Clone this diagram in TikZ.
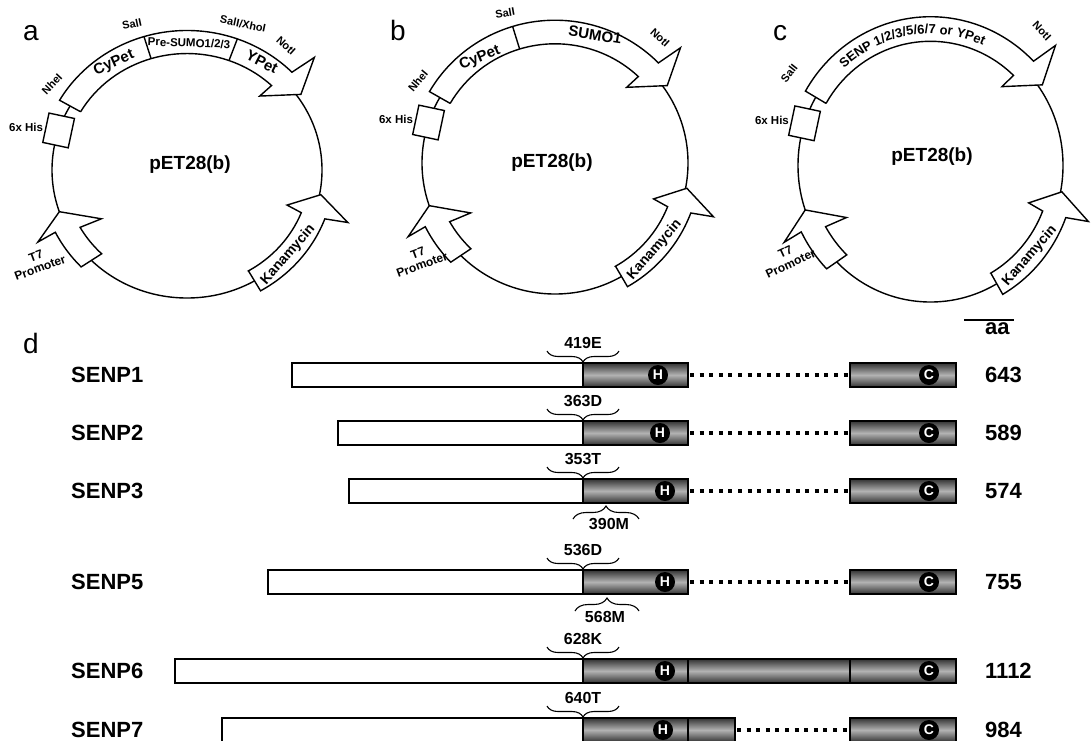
\documentclass[tikz,border=0pt]{standalone}
\usepackage{fontspec}
\setmainfont{Liberation Sans}
\usetikzlibrary{positioning,decorations.pathreplacing,decorations.text}

\begin{document}
\begin{tikzpicture}[x=1pt, y=-1pt,
    backbone/.style={line width=1.4pt},
    feature/.style={draw, fill=white, line width=1.4pt, line join=miter},
    hisbox/.style={draw, fill=white, line width=1.4pt, minimum width=26pt, minimum height=30pt, inner sep=0pt},
    panel/.style={font=\fontsize{28}{30}\selectfont, anchor=base, inner sep=0pt},
    site/.style={font=\bfseries\fontsize{11}{12}\selectfont, inner sep=0pt},
    prom/.style={font=\bfseries\fontsize{12}{12.5}\selectfont, inner sep=0pt, align=center},
    gene/.style={font=\bfseries\fontsize{15}{16}\selectfont, inner sep=0pt},
    vecname/.style={font=\bfseries\fontsize{19}{20}\selectfont, inner sep=0pt},
    senp/.style={font=\bfseries\fontsize{22}{24}\selectfont, inner sep=0pt, anchor=west},
    wbar/.style={draw, fill=white, line width=2pt},
    gbar/.style={draw, line width=2pt, top color=black!80, bottom color=black!80, middle color=black!30},
    dom/.style={circle, fill=black, text=white, minimum size=20pt, inner sep=0pt, font=\bfseries\fontsize{14}{14}\selectfont},
    dots/.style={line width=3.5pt, dash pattern=on 4pt off 5.6pt},
    nodots/.style={draw=none},
    brc/.style={decorate, decoration={brace, amplitude=11pt}, line width=1.1pt},
    cut/.style={font=\bfseries\fontsize{16}{17}\selectfont, inner sep=0pt}
  ]
  \useasboundingbox (0,0) rectangle (1091,740);

  % plasmids a, b, c
  \foreach \nm/\cx/\cy/\rx/\ry in {a/187/170/135/128, b/555/163/133/131, c/930.5/165.5/132.5/136.5}{
    \begin{scope}[shift={(\cx,\cy)}, x=\rx pt, y=\ry pt]
      \draw[backbone] (0,0) circle[radius=1];
      % insert
      \draw[feature] (150:0.91) -- (150:1.09) arc[start angle=150, end angle=44.5, radius=1.09]
        -- (43:1.29) -- (35:1.03) -- (47:0.79) -- (46.5:0.91) arc[start angle=46.5, end angle=150, radius=0.91] -- cycle;
      % T7 promoter
      \draw[feature] (224:1.09) -- (226:0.91) arc[start angle=226, end angle=209.5, radius=0.91]
        -- (211:0.74) -- (199:1.0) -- (207:1.24) -- (206.5:1.09) arc[start angle=206.5, end angle=224, radius=1.09] -- cycle;
      % kanamycin
      \draw[feature] (-60:0.91) -- (-60:1.09) arc[start angle=-60, end angle=-20.5, radius=1.09]
        -- (-19:1.26) -- (-11:1.01) -- (-20.3:0.79) -- (-21.5:0.91) arc[start angle=-21.5, end angle=-60, radius=0.91] -- cycle;
      \node[gene, font=\bfseries\fontsize{14}{15}\selectfont, rotate=49] (kan-\nm) at (-41.5:1) {Kanamycin};
      \node[hisbox, rotate=-12] (his-\nm) at (162:1) {};
    \end{scope}
    \node[site, font=\bfseries\fontsize{11.5}{12}\selectfont, left=2pt of his-\nm] (histag-\nm) {6x His};
  }

  % dividers
  \begin{scope}[shift={(187,170)}, x=135pt, y=128pt]
    \draw[backbone] (107:0.91) -- (107:1.09);
    \draw[backbone] (70:0.91) -- (70:1.09);
  \end{scope}
  \begin{scope}[shift={(555,163)}, x=133pt, y=131pt]
    \draw[backbone] (107:0.91) -- (107:1.09);
  \end{scope}
  \begin{scope}[shift={(930.5,165.5)}, x=132.5pt, y=136.5pt]
    \path[decorate, decoration={text along path, text align=center,
      text={|\bfseries\fontsize{13}{14}\selectfont|SENP 1/2/3/5/6/7 or YPet}}]
      (150:0.965) arc[start angle=150, end angle=48, radius=0.965];
  \end{scope}

  % labels a
  \node[panel] (pa) at (31,40) {a};
  \node[site, rotate=47] (nhe-a) at (52,84) {NheI};
  \node[gene, rotate=24] (cypet-a) at (114,63) {CyPet};
  \node[site, rotate=12] (sal-a) at (132,24) {SalI};
  \node[site, font=\bfseries\fontsize{11.5}{12}\selectfont, rotate=-2] (pre-a) at (189,43) {Pre-SUMO1/2/3};
  \node[site, rotate=-12] (xho-a) at (243,24) {SalI/XhoI};
  \node[gene, rotate=-27] (ypet-a) at (262,62) {YPet};
  \node[site, rotate=-42] (not-a) at (286,46) {NotI};
  \node[vecname] (vec-a) at (190,165) {pET28(b)};
  \node[prom, rotate=20] (t7-a) at (38,262) {T7\\Promoter};

  % labels b
  \node[panel] (pb) at (398,40) {b};
  \node[site, rotate=50] (nhe-b) at (418,81) {NheI};
  \node[gene, rotate=22] (cypet-b) at (480,58) {CyPet};
  \node[site, rotate=10] (sal-b) at (505,13) {SalI};
  \node[gene, rotate=-9] (sumo-b) at (595,35) {SUMO1};
  \node[site, rotate=-42] (not-b) at (660,38) {NotI};
  \node[vecname] (vec-b) at (552,163) {pET28(b)};
  \node[prom, rotate=20] (t7-b) at (420,259) {T7\\Promoter};

  % labels c
  \node[panel] (pc) at (780,40) {c};
  \node[site, rotate=52] (sal-c) at (789,73) {SalI};
  \node[site, rotate=-47] (not-c) at (1042,31) {NotI};
  \node[vecname] (vec-c) at (932,157) {pET28(b)};
  \node[prom, rotate=25] (t7-c) at (788,258) {T7\\Promoter};

  % panel d
  \node[panel] (pd) at (31,353) {d};
  \node[senp] (aa) at (985,329) {aa};
  \draw[line width=1.2pt] (964,320) -- (1014,320);
  \foreach \i/\ty/\lft/\hx/\len/\site/\gend/\dl in {
      1/363/292/658/643/419E/688/dots,
      2/421/338/660/589/363D/688/dots,
      3/479/349/665/574/353T/688/dots,
      5/570/268/665/755/536D/688/dots,
      6/659/175/665/1112/628K/956/nodots,
      7/718/222/663/984/640T/735/dots}{
    \node[senp] (senp\i) at (71,\ty+12) {SENP\i};
    \draw[wbar] (\lft,\ty) rectangle (583,\ty+24);
    \draw[gbar] (583,\ty) rectangle (\gend,\ty+24);
    \draw[gbar] (850,\ty) rectangle (956,\ty+24);
    \draw[line width=2pt] (688,\ty) -- (688,\ty+24);
    \node[dom] (h\i) at (\hx,\ty+12) {H};
    \node[dom] (c\i) at (929,\ty+12) {C};
    \coordinate (ge\i) at (\gend+2,\ty+12);
    \coordinate (cs\i) at (848,\ty+12);
    \draw[\dl] (ge\i) -- (cs\i);
    \draw[brc, decoration={mirror}] (547,\ty-12) -- (619,\ty-12);
    \node[cut] (cut\i) at (583,\ty-20) {\site};
    \node[senp] (len\i) at (985,\ty+12) {\len};
  }
  \draw[brc, decoration={amplitude=13pt}] (573,519) -- (639,519);
  \node[cut] (m3) at (609,524) {390M};
  \draw[brc, decoration={amplitude=13pt}] (575,611) -- (639,611);
  \node[cut] (m5) at (605,617) {568M};
\end{tikzpicture}
\end{document}
